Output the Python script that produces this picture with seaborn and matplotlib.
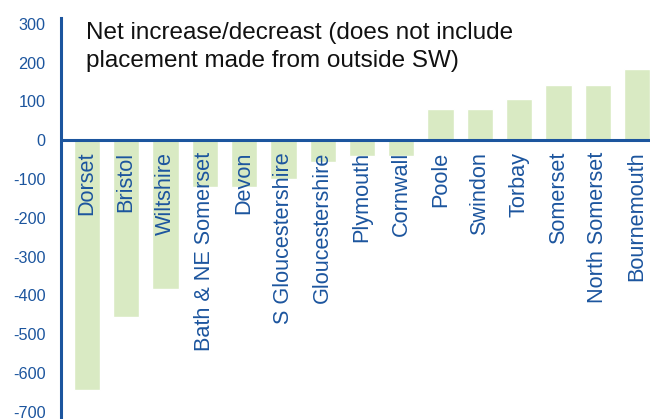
import matplotlib
matplotlib.use("Agg")
import matplotlib.pyplot as plt
import seaborn as sns
import pandas as pd

categories = ["Dorset", "Bristol", "Wiltshire", "Bath & NE Somerset", "Devon",
              "S Gloucestershire", "Gloucestershire", "Plymouth", "Cornwall",
              "Poole", "Swindon", "Torbay", "Somerset", "North Somerset", "Bournemouth"]
values = [-645, -455, -385, -120, -120, -100, -57, -40, -40,
          80, 80, 106, 142, 142, 184]
yticks = [300, 200, 100, 0, -100, -200, -300, -400, -500, -600, -700]
title = "Net increase/decreast (does not include\nplacement made from outside SW)"

BAR = "#d9eac3"
BLUE = "#1c559e"

sns.set_theme(style="white")
plt.rcParams['font.family'] = ['Liberation Sans', 'DejaVu Sans']

df = pd.DataFrame({"cat": categories, "val": values})

fig = plt.figure(figsize=(6.5, 4.19), dpi=100)
ax = fig.add_axes([61/650, 0, 589/650, 401/419])
sns.barplot(data=df, x="cat", y="val", color=BAR, saturation=1, width=0.67, ax=ax)

ax.set_xlim(-0.66, 14.33)
ax.set_ylim(-719, 315)
ax.set_xlabel("")
ax.set_ylabel("")
ax.set_xticks([])
ax.set_yticks(yticks)
ax.set_yticklabels([str(t) for t in yticks], color=BLUE, fontsize=11.7)
ax.tick_params(axis='y', length=0, pad=11)
for s in ["top", "right", "bottom"]:
    ax.spines[s].set_visible(False)
ax.spines["left"].set_color(BLUE)
ax.spines["left"].set_linewidth(2.2)
ax.axhline(0, color=BLUE, lw=2.2, zorder=5)

for i, c in enumerate(categories):
    ax.text(i, -30, c, rotation=90, ha="center", va="top", color=BLUE,
            fontsize=15.6, zorder=6)

fig.text(86/650, 1 - 67/419, title, ha="left", va="baseline", fontsize=17.5,
         color="#111111", linespacing=1.38)

fig.savefig("out.png", dpi=100)
